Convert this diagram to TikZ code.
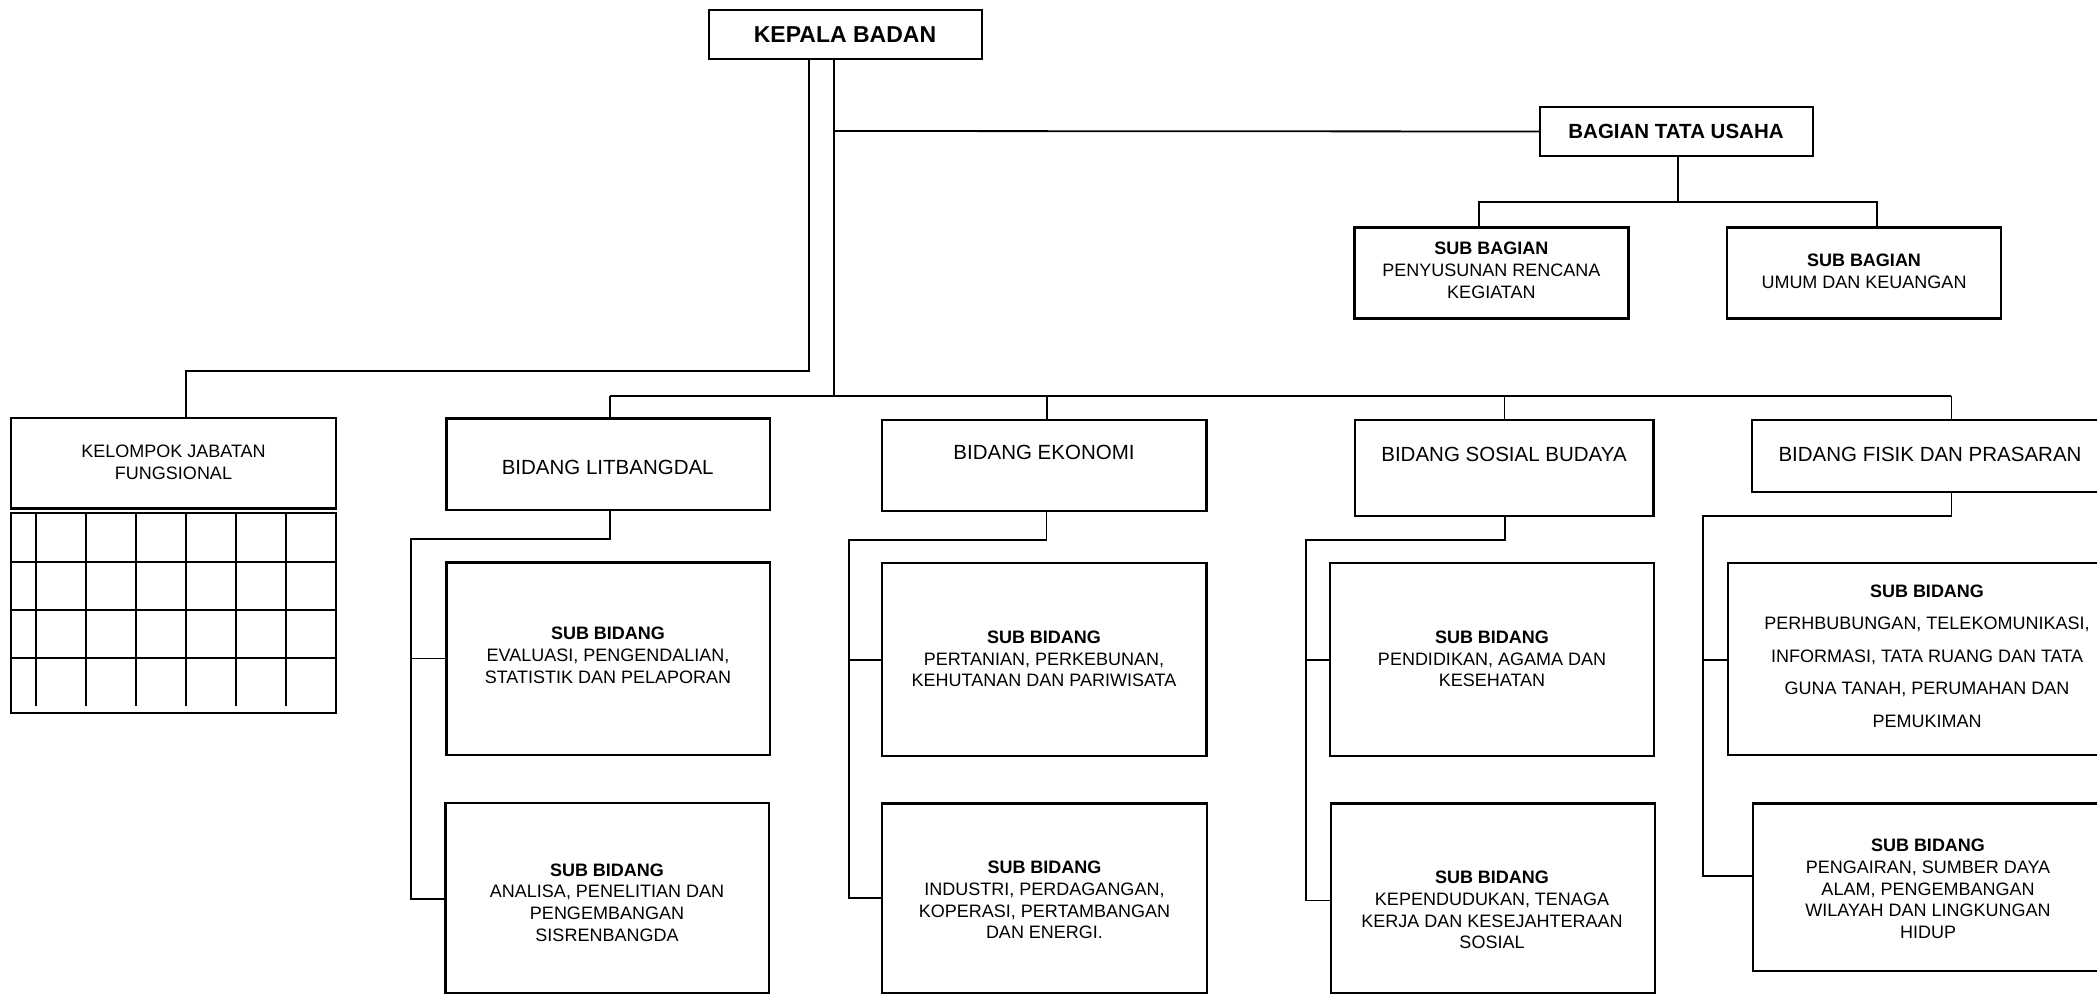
\documentclass[tikz,border=0pt]{standalone}
\usepackage{fontspec}
\setmainfont{Liberation Sans}
\begin{document}
\begin{tikzpicture}[x=1pt,y=-1pt,
  box/.style={draw,line width=2.2pt,inner sep=0pt,outer sep=0pt,anchor=north west},
  conn/.style={line width=1.8pt,line join=miter},
  gridln/.style={line width=2pt},
  txt/.style={inner sep=0pt,align=center,font=\fontsize{18}{21.7}\selectfont},
  head/.style={inner sep=0pt,align=center,font=\fontsize{20.5}{24}\selectfont},
  bighead/.style={inner sep=0pt,align=center,font=\fontsize{23}{26}\selectfont\bfseries}]
\clip (0,0) rectangle (2097,995);
\fill[white] (0,0) rectangle (2097,995);

% boxes
\node[box,minimum width=273pt,minimum height=49pt] (kepala) at (709,10) {};
\node[box,minimum width=273pt,minimum height=49pt] (bagian) at (1540,107) {};
\node[box,minimum width=274pt,minimum height=91pt] (sbpen) at (1354.5,227.5) {};
\node[box,minimum width=274pt,minimum height=91pt] (sbumum) at (1727,227.5) {};
\node[box,minimum width=325pt,minimum height=90.5pt] (kelompok) at (11.2,418) {};
\node[box,minimum width=325pt,minimum height=200pt] (grid) at (11.2,513.3) {};
\node[box,minimum width=323.5pt,minimum height=91.5pt] (litbang) at (446.4,418.4) {};
\node[box,minimum width=324.5pt,minimum height=91pt] (ekonomi) at (882,419.6) {};
\node[box,minimum width=298.5pt,minimum height=96.5pt] (sosial) at (1355,419.6) {};
\node[box,minimum width=360pt,minimum height=72pt] (fisik) at (1752,419.6) {};
\node[box,minimum width=323.5pt,minimum height=192.5pt] (lit1) at (446.4,562.4) {};
\node[box,minimum width=323.5pt,minimum height=190.5pt] (lit2) at (445.4,802.7) {};
\node[box,minimum width=324.5pt,minimum height=192.5pt] (eko1) at (882,563.1) {};
\node[box,minimum width=325pt,minimum height=189.5pt] (eko2) at (882,803.5) {};
\node[box,minimum width=324pt,minimum height=192.5pt] (sos1) at (1330,563.1) {};
\node[box,minimum width=324pt,minimum height=189.5pt] (sos2) at (1330.8,803.5) {};
\node[box,minimum width=380pt,minimum height=192pt] (fis1) at (1727.7,563.1) {};
\node[box,minimum width=360pt,minimum height=167.5pt] (fis2) at (1753.2,803.5) {};

% grid lines inside the functional group table
\foreach \y in {562.4,610.2,658} \draw[gridln] (grid.west |- 0,\y) -- (grid.east |- 0,\y);
\foreach \x in {36.2,86.2,136.2,186.2,236.2,286.2} \draw[gridln] (\x,513.3) -- (\x,706.3);

% texts
\node[bighead] (tkepala) at (845,35) {KEPALA BADAN};
\node[inner sep=0pt,font=\fontsize{20.5}{24}\selectfont\bfseries] (tbagian) at (1676,131.5) {BAGIAN TATA USAHA};
\node[txt] (tsbpen) at (1491.4,270.5) {\textbf{SUB BAGIAN}\\PENYUSUNAN RENCANA\\KEGIATAN};
\node[txt] (tsbumum) at (1864,271.5) {\textbf{SUB BAGIAN}\\UMUM DAN KEUANGAN};
\node[txt] (tkelompok) at (173.5,462.4) {KELOMPOK JABATAN\\FUNGSIONAL};
\node[head] (tlitbang) at (607.7,467) {BIDANG LITBANGDAL};
\node[head] (tekonomi) at (1044,452.5) {BIDANG EKONOMI};
\node[head] (tsosial) at (1504,454.5) {BIDANG SOSIAL BUDAYA};
\node[head] (tfisik) at (1930,454.5) {BIDANG FISIK DAN PRASARAN};
\node[txt] (tlit1) at (608,655.1) {\textbf{SUB BIDANG}\\EVALUASI, PENGENDALIAN,\\STATISTIK DAN PELAPORAN};
\node[txt] (tlit2) at (607,902.5) {\textbf{SUB BIDANG}\\ANALISA, PENELITIAN DAN\\PENGEMBANGAN\\SISRENBANGDA};
\node[txt] (teko1) at (1044,658.8) {\textbf{SUB BIDANG}\\PERTANIAN, PERKEBUNAN,\\KEHUTANAN DAN PARIWISATA};
\node[txt] (teko2) at (1044.5,900.2) {\textbf{SUB BIDANG}\\INDUSTRI, PERDAGANGAN,\\KOPERASI, PERTAMBANGAN\\DAN ENERGI.};
\node[txt] (tsos1) at (1492,658.8) {\textbf{SUB BIDANG}\\PENDIDIKAN, AGAMA DAN\\KESEHATAN};
\node[txt] (tsos2) at (1492,910) {\textbf{SUB BIDANG}\\KEPENDUDUKAN, TENAGA\\KERJA DAN KESEJAHTERAAN\\SOSIAL};
\node[txt,font=\fontsize{18}{32.6}\selectfont] (tfis1) at (1927,656.1) {\textbf{SUB BIDANG}\\PERHBUBUNGAN, TELEKOMUNIKASI,\\INFORMASI, TATA RUANG DAN TATA\\GUNA TANAH, PERUMAHAN DAN\\PEMUKIMAN};
\node[txt] (tfis2) at (1928,888.9) {\textbf{SUB BIDANG}\\PENGAIRAN, SUMBER DAYA\\ALAM, PENGEMBANGAN\\WILAYAH DAN LINGKUNGAN\\HIDUP};

% connectors from the head
\draw[conn] (kepala.south -| 809,0) -- (809,370.7) -| (kelompok.north -| 186,0);
\coordinate (busL) at (609.6,395.7);
\coordinate (busR) at (1951.4,395.7);
\draw[conn] (kepala.south -| 833.7,0) -- (833.7,395.7);
\draw[conn] (833.7,131) -- (bagian.west);
\draw[conn] (busL) -- (busR);
\draw[conn] (busL) -- (litbang.north -| busL);
\draw[conn] (1046.8,395.7) -- (ekonomi.north -| 1046.8,0);
\draw[conn] (1504.5,395.7) -- (sosial.north -| 1504.5,0);
\draw[conn] (busR) -- (fisik.north -| busR);

% Bagian Tata Usaha
\draw[conn] (bagian.south -| 1677.7,0) -- (1677.7,202.3);
\draw[conn] (sbpen.north -| 1478.7,0) |- (1876.6,202.3) -- (sbumum.north -| 1876.6,0);

% Litbangdal
\draw[conn] (litbang.south -| 609.7,0) -- (609.7,538.8) -| (410.7,898.8) -- (lit2.west |- 0,898.8);
\draw[conn] (410.7,658.4) -- (lit1.west |- 0,658.4);
% Ekonomi
\draw[conn] (ekonomi.south -| 1046.5,0) -- (1046.5,539.6) -| (849,897.6) -- (eko2.west |- 0,897.6);
\draw[conn] (849,659.6) -- (eko1.west |- 0,659.6);
% Sosial Budaya
\draw[conn] (sosial.south -| 1504.6,0) -- (1504.6,539.6) -| (1305.8,900.4) -- (sos2.west |- 0,900.4);
\draw[conn] (1305.8,659.6) -- (sos1.west |- 0,659.6);
% Fisik
\draw[conn] (fisik.south -| 1951.4,0) -- (1951.4,516) -| (1703,876) -- (fis2.west |- 0,876);
\draw[conn] (1703,659.6) -- (fis1.west |- 0,659.6);
\end{tikzpicture}
\end{document}
